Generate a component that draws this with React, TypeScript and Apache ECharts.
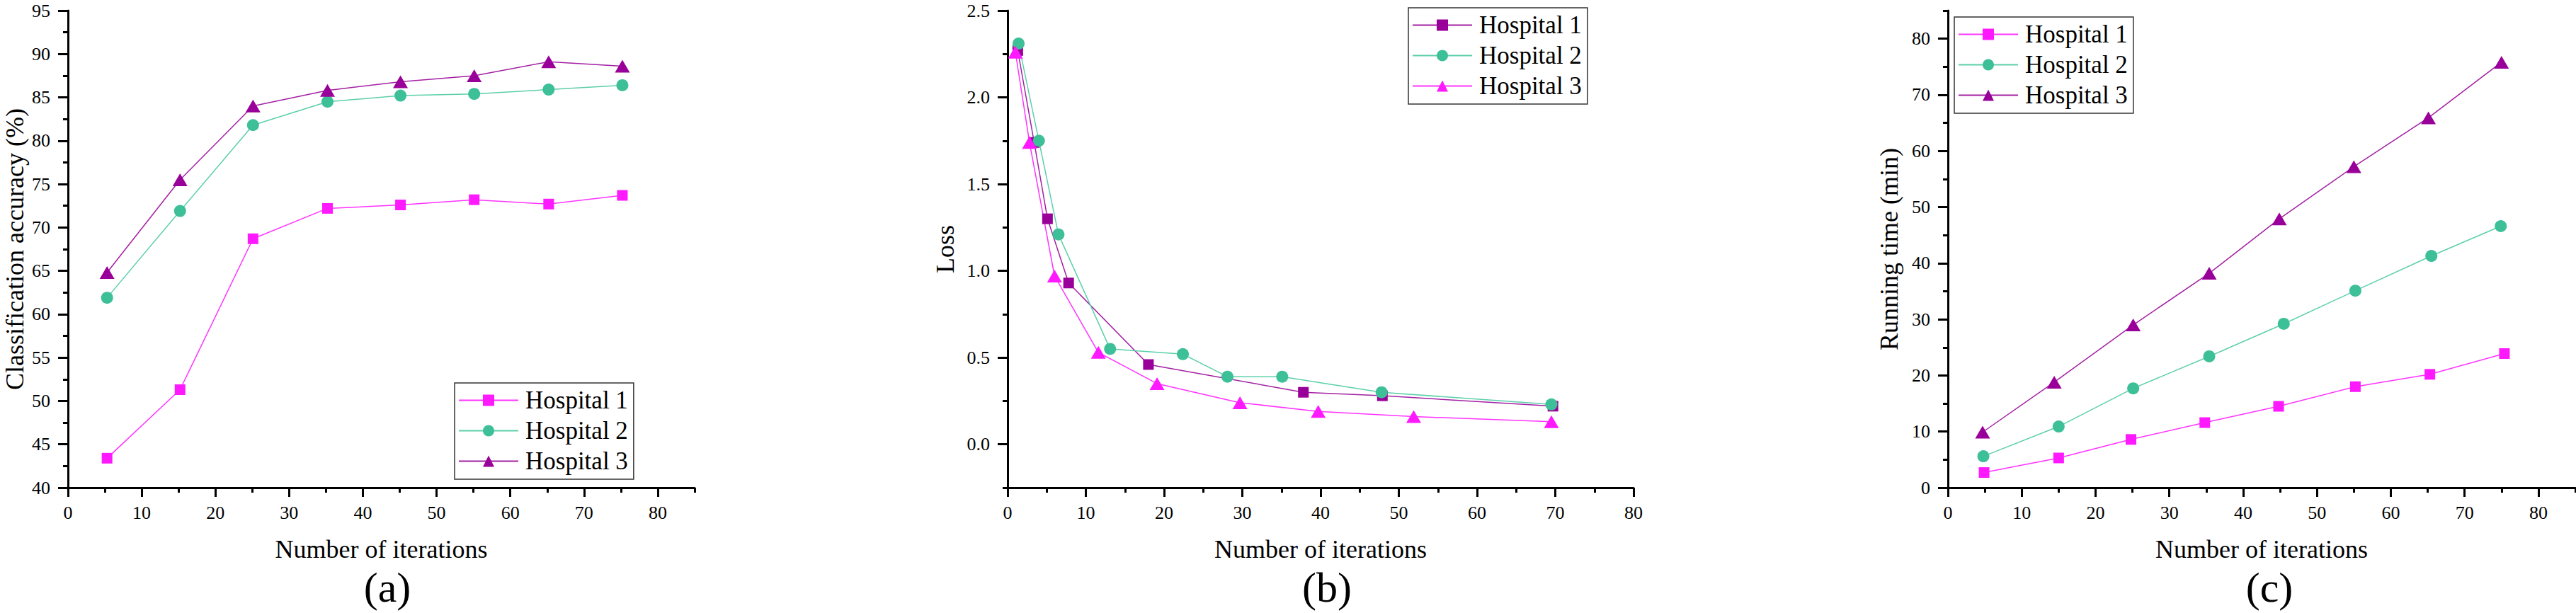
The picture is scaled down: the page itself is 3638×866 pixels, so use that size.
import React, { useEffect, useRef } from "react";
import * as echarts from "echarts";

const FONT = "'Times New Roman', 'Liberation Serif', serif";

// ---- tick values ----
const xMajor = [0, 10, 20, 30, 40, 50, 60, 70, 80];
const xMinorAC = [5, 15, 25, 35, 45, 55, 65, 75, 85];
const xMinorB = [5, 15, 25, 35, 45, 55, 65, 75];
const yMajorA = [40, 45, 50, 55, 60, 65, 70, 75, 80, 85, 90, 95];
const yMinorA = [42.5, 47.5, 52.5, 57.5, 62.5, 67.5, 72.5, 77.5, 82.5, 87.5, 92.5];
const yMajorB = [0, 0.5, 1.0, 1.5, 2.0, 2.5];
const yMinorB = [-0.25, 0.25, 0.75, 1.25, 1.75, 2.25];
const yMajorC = [0, 10, 20, 30, 40, 50, 60, 70, 80];
const yMinorC = [5, 15, 25, 35, 45, 55, 65, 75, 85];

// ---- (a) classification accuracy ----
const accIter = [5.3, 15.2, 25.1, 35.2, 45.1, 55.1, 65.2, 75.2];
const accH1 = [43.4, 51.3, 68.7, 72.2, 72.6, 73.2, 72.7, 73.7];
const accH2 = [61.9, 71.9, 81.8, 84.5, 85.2, 85.4, 85.9, 86.4];
const accH3 = [64.8, 75.5, 84.0, 85.8, 86.8, 87.5, 89.1, 88.6];

// ---- (b) loss ----
const lossIterH1 = [1.3, 3.4, 5.1, 7.8, 18.0, 37.8, 47.9, 69.7];
const lossH1 = [2.27, 1.74, 1.3, 0.93, 0.46, 0.3, 0.28, 0.22];
const lossIterH2 = [1.4, 4.0, 6.5, 13.1, 22.4, 28.1, 35.1, 47.8, 69.5];
const lossH2 = [2.31, 1.75, 1.21, 0.55, 0.52, 0.39, 0.39, 0.3, 0.23];
const lossIterH3 = [1.0, 2.8, 6.0, 11.6, 19.1, 29.7, 39.7, 51.9, 69.5];
const lossH3 = [2.26, 1.74, 0.97, 0.53, 0.35, 0.24, 0.19, 0.16, 0.13];

// ---- (c) running time ----
const timeIterH1 = [4.9, 15.0, 24.8, 34.8, 44.8, 55.2, 65.3, 75.4];
const timeH1 = [2.7, 5.3, 8.6, 11.6, 14.5, 18.0, 20.2, 23.9];
const timeIterH2 = [4.8, 15.0, 25.1, 35.4, 45.5, 55.2, 65.5, 74.9];
const timeH2 = [5.6, 10.9, 17.7, 23.4, 29.2, 35.1, 41.3, 46.6];
const timeIterH3 = [4.7, 14.4, 25.1, 35.4, 44.9, 55.0, 65.1, 75.0];
const timeH3 = [9.9, 18.8, 29.0, 38.2, 47.9, 57.2, 65.9, 75.8];

const MAGENTA = "#ff19ff";
const MAGENTA_LINE = "#ff33ff";
const GREEN = "#3dbf98";
const GREEN_LINE = "#5ccfaa";
const PURPLE = "#990099";
const PURPLE_LINE = "#a320a3";

const GRIDS = [
  { left: 96, top: 15, width: 885, height: 674 },
  { left: 1423, top: 15, width: 884, height: 674 },
  { left: 2751, top: 15, width: 886, height: 674 },
];

function axisPair(
  dim: "x" | "y",
  gridIndex: number,
  min: number,
  max: number,
  major: number[],
  minor: number[],
  name: string,
  nameGap: number,
  fmt: (v: number) => string
) {
  const position = dim === "x" ? "bottom" : "left";
  const main = {
    type: "value",
    gridIndex,
    min,
    max,
    position,
    name,
    nameLocation: "middle",
    nameGap,
    nameTextStyle: { fontFamily: FONT, fontSize: 36, color: "#000" },
    axisLine: { show: true, onZero: false, lineStyle: { color: "#000", width: 3 } },
    axisTick: {
      show: true,
      inside: false,
      length: dim === "x" ? 13 : 14,
      customValues: major,
      lineStyle: { color: "#000", width: 3 },
    },
    axisLabel: {
      show: true,
      customValues: major,
      margin: dim === "x" ? 22 : 25,
      fontFamily: FONT,
      fontSize: 26,
      color: "#000",
      formatter: fmt,
    },
    splitLine: { show: false },
  };
  const sub = {
    type: "value",
    gridIndex,
    min,
    max,
    position,
    axisLine: { show: false, onZero: false },
    axisTick: {
      show: true,
      inside: false,
      length: 7,
      customValues: minor,
      lineStyle: { color: "#000", width: 3 },
    },
    axisLabel: { show: false },
    splitLine: { show: false },
  };
  return [main, sub];
}

function mkSeries(
  panel: string,
  idx: number,
  label: string,
  xs: number[],
  ys: number[],
  symbol: string,
  symbolSize: number | number[],
  color: string,
  lineColor: string
) {
  return {
    type: "line",
    name: `${panel}|${label}`,
    xAxisIndex: idx * 2,
    yAxisIndex: idx * 2,
    data: xs.map((x, i) => [x, ys[i]]),
    symbol,
    symbolSize,
    showSymbol: true,
    lineStyle: { color: lineColor, width: 1.5 },
    itemStyle: { color },
    emphasis: { disabled: true },
  };
}

function mkLegend(panel: string, left: number, top: number) {
  return {
    orient: "vertical",
    left,
    top,
    itemWidth: 84,
    itemHeight: 20,
    itemGap: 8,
    padding: [7, 8, 8, 5],
    borderColor: "#333",
    borderWidth: 1.5,
    backgroundColor: "#fff",
    selectedMode: false,
    textStyle: { fontFamily: FONT, fontSize: 35, color: "#000", padding: [0, 0, 0, 5] },
    formatter: (n: string) => n.split("|")[1],
    data: [`${panel}|Hospital 1`, `${panel}|Hospital 2`, `${panel}|Hospital 3`],
  };
}

const intFmt = (v: number) => String(Math.round(v));
const oneDec = (v: number) => v.toFixed(1);

export default function App() {
  const ref = useRef<HTMLDivElement>(null);
  useEffect(() => {
    if (!ref.current) return;
    const chart = echarts.init(ref.current, undefined, { renderer: "svg" });
    const xAxis = [
      ...axisPair("x", 0, 0, 85, xMajor, xMinorAC, "Number of iterations", 69, intFmt),
      ...axisPair("x", 1, 0, 80, xMajor, xMinorB, "Number of iterations", 69, intFmt),
      ...axisPair("x", 2, 0, 85, xMajor, xMinorAC, "Number of iterations", 69, intFmt),
    ];
    const yAxis = [
      ...axisPair("y", 0, 40, 95, yMajorA, yMinorA, "Classification accuracy (%)", 57, intFmt),
      ...axisPair("y", 1, -0.25, 2.5, yMajorB, yMinorB, "Loss", 70, oneDec),
      ...axisPair("y", 2, 0, 85, yMajorC, yMinorC, "Running time (min)", 65, intFmt),
    ];
    const series = [
      mkSeries("a", 0, "Hospital 1", accIter, accH1, "rect", 15, MAGENTA, MAGENTA_LINE),
      mkSeries("a", 0, "Hospital 2", accIter, accH2, "circle", 17, GREEN, GREEN_LINE),
      mkSeries("a", 0, "Hospital 3", accIter, accH3, "triangle", [21, 18], PURPLE, PURPLE_LINE),
      mkSeries("b", 1, "Hospital 1", lossIterH1, lossH1, "rect", 15, PURPLE, PURPLE_LINE),
      mkSeries("b", 1, "Hospital 2", lossIterH2, lossH2, "circle", 17, GREEN, GREEN_LINE),
      mkSeries("b", 1, "Hospital 3", lossIterH3, lossH3, "triangle", [21, 18], MAGENTA, MAGENTA_LINE),
      mkSeries("c", 2, "Hospital 1", timeIterH1, timeH1, "rect", 15, MAGENTA, MAGENTA_LINE),
      mkSeries("c", 2, "Hospital 2", timeIterH2, timeH2, "circle", 17, GREEN, GREEN_LINE),
      mkSeries("c", 2, "Hospital 3", timeIterH3, timeH3, "triangle", [21, 18], PURPLE, PURPLE_LINE),
    ];
    const captions = [
      { text: "(a)", x: 547 },
      { text: "(b)", x: 1874 },
      { text: "(c)", x: 3205 },
    ];
    chart.setOption({
      animation: false,
      backgroundColor: "#fff",
      grid: GRIDS.map((g) => ({ ...g, containLabel: false, outerBoundsMode: "none" })),
      xAxis,
      yAxis,
      series,
      legend: [mkLegend("a", 642, 541), mkLegend("b", 1989, 11), mkLegend("c", 2760, 24)],
      graphic: captions.map((c) => ({
        type: "text",
        x: c.x,
        y: 830,
        style: {
          text: c.text,
          fontFamily: FONT,
          fontSize: 60,
          fill: "#000",
          align: "center",
          verticalAlign: "middle",
        },
      })),
    });
    return () => chart.dispose();
  }, []);
  return (
    <div
      ref={ref}
      style={{ position: "absolute", left: 0, top: 0, width: 3638, height: 866 }}
    />
  );
}
